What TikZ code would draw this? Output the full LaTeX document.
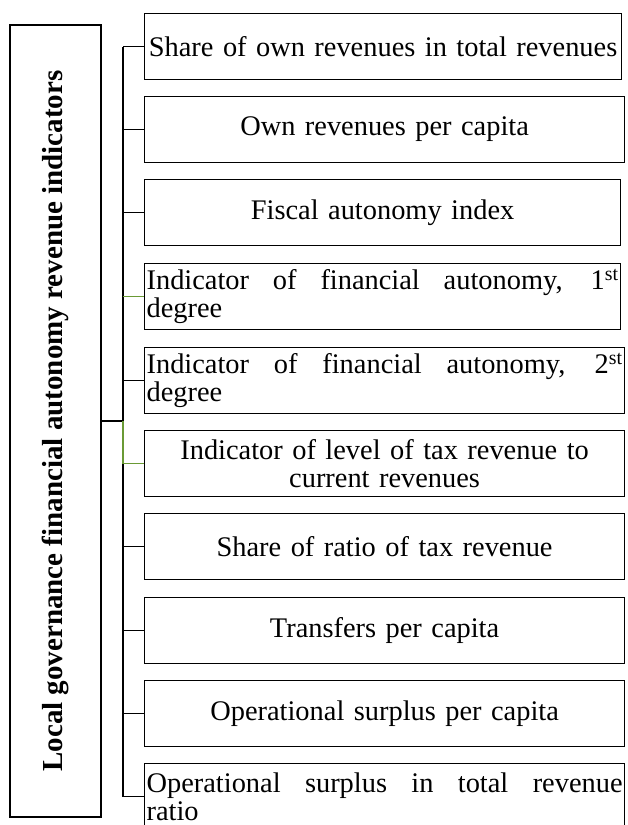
\documentclass[tikz,border=0pt]{standalone}
\usepackage{fontspec}
\setmainfont{Liberation Serif}
\usetikzlibrary{positioning, calc}
\definecolor{lgblack}{HTML}{000000}
\definecolor{lggreen}{HTML}{6A9A35}
\hyphenpenalty=10000
\exhyphenpenalty=10000

\begin{document}
\begin{tikzpicture}[
  x=1pt, y=-1pt,
  ind/.style={
    rectangle,
    draw=lgblack,
    line width=1.2pt,
    minimum height=66pt,
    inner xsep=2pt,
    inner ysep=0pt,
    anchor=north west,
    font=\fontsize{28.4}{28}\selectfont
  },
  title/.style={
    rectangle,
    draw=lgblack,
    line width=1.3pt,
    rotate=90,
    minimum width=792pt,
    minimum height=91pt,
    font=\fontsize{29}{30}\selectfont\bfseries
  },
  trunkline/.style={line width=2pt, lgblack},
  stub/.style={line width=1.2pt, lgblack}
]
  \useasboundingbox (0,0) rectangle (627,825);
  \clip (0,0) rectangle (627,825);

  % left title box (rotated, so its right side is .south)
  \node[title] (main) at (55.5,421) {Local governance financial autonomy revenue indicators};
  \coordinate (trunk) at (123,0);

  % indicator boxes - placed by hand
  \node[ind, text width=473pt, align=center] (box1) at (144,13) {Share of own revenues in total revenues};
  \node[ind, text width=476pt, align=center] (box2) at (144,96) {Own revenues per capita};
  \node[ind, text width=472pt, align=center] (box3) at (144,179) {Fiscal autonomy index};
  \node[ind, text width=472pt, align=justify] (box4) at (144,263) {Indicator of financial autonomy, 1\textsuperscript{st}\linebreak degree};
  \node[ind, text width=476pt, align=justify] (box5) at (144,347) {Indicator of financial autonomy, 2\textsuperscript{st}\linebreak degree};
  \node[ind, text width=476pt, align=center] (box6) at (144,430) {Indicator of level of tax revenue to\\ current revenues};
  \node[ind, text width=476pt, align=center] (box7) at (144,513) {Share of ratio of tax revenue};
  \node[ind, text width=476pt, align=center] (box8) at (144,597) {Transfers per capita};
  \node[ind, text width=476pt, align=center] (box9) at (144,680) {Operational surplus per capita};
  \node[ind, text width=476pt, align=justify, minimum height=66pt] (box10) at (144,763) {Operational surplus in total revenue\linebreak ratio};

  % trunk and stubs
  \draw[trunkline] (box1.west -| trunk) -- (box10.west -| trunk);
  \draw[trunkline] (main.south) -- (main.south -| trunk);
  \draw[stub] (box1.west -| trunk) -- (box1.west);
  \draw[stub] (box2.west -| trunk) -- (box2.west);
  \draw[stub] (box3.west -| trunk) -- (box3.west);
  \draw[stub, lggreen] (box4.west -| trunk) -- (box4.west);
  \draw[stub] (box5.west -| trunk) -- (box5.west);
  \draw[stub, lggreen] (main.south -| trunk) -- (box6.west -| trunk) -- (box6.west);
  \draw[stub] (box7.west -| trunk) -- (box7.west);
  \draw[stub] (box8.west -| trunk) -- (box8.west);
  \draw[stub] (box9.west -| trunk) -- (box9.west);
  \draw[stub] (box10.west -| trunk) -- (box10.west);
\end{tikzpicture}
\end{document}
